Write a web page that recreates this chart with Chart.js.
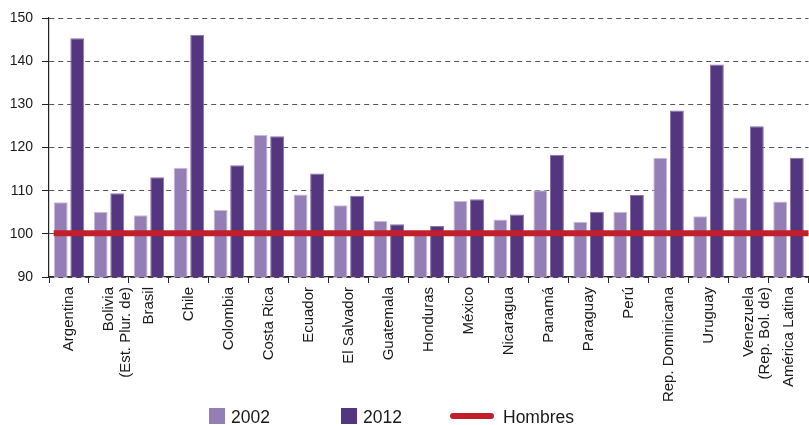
<!DOCTYPE html>
<html>
<head>
<meta charset="utf-8">
<script src="https://cdn.jsdelivr.net/npm/chart.js@4/dist/chart.umd.min.js"></script>
<style>
  html, body { margin: 0; padding: 0; background: #fff; }
  #wrap { position: relative; width: 809px; height: 425px; overflow: hidden; }
  canvas { position: absolute; left: 0; top: 0; }
  .lg { position: absolute; font-family: "Liberation Sans", Arial, sans-serif; font-size: 17.5px; line-height: 17px; color: #1a1a1a; white-space: nowrap; }
  .box { position: absolute; width: 16px; height: 16px; }
  .ln { position: absolute; width: 44px; height: 6px; border-radius: 3px; }
</style>
</head>
<body>
<div id="wrap">
  <canvas id="c" width="809" height="425"></canvas>
  <div class="box" style="left:209px;top:408px;background:#957db6;"></div>
  <div class="lg" style="left:231px;top:409px;">2002</div>
  <div class="box" style="left:341px;top:408px;background:#54357f;"></div>
  <div class="lg" style="left:363px;top:409px;">2012</div>
  <div class="ln" style="left:450px;top:413px;background:#c1202b;"></div>
  <div class="lg" style="left:503px;top:409px;">Hombres</div>
</div>
<script>
const categories = [
  "Argentina", ["Bolivia", "(Est. Plur. de)"], "Brasil", "Chile", "Colombia",
  "Costa Rica", "Ecuador", "El Salvador", "Guatemala", "Honduras", "México",
  "Nicaragua", "Panamá", "Paraguay", "Perú", "Rep. Dominicana", "Uruguay",
  ["Venezuela", "(Rep. Bol. de)"], "América Latina"
];
const values2002 = [107.3, 105.1, 104.3, 115.3, 105.5, 122.9, 109.1, 106.6, 103.0, 100.5, 107.6, 103.3, 110.1, 102.8, 105.1, 117.6, 104.1, 108.4, 107.5];
const values2012 = [145.3, 109.4, 113.1, 146.1, 115.9, 122.6, 114.0, 108.8, 102.2, 101.8, 108.0, 104.5, 118.3, 105.1, 109.0, 128.6, 139.2, 124.9, 117.6];
const hombres = 100;
const yTicks = [90, 100, 110, 120, 130, 140, 150];

const FONT = "'Liberation Sans', Arial, sans-serif";

// Reference line "Hombres" drawn at the y-scale pixel of its value,
// starting at the left edge of the first bar and running to the plot's right edge.
const hombresLine = {
  id: 'hombresLine',
  afterDatasetsDraw(chart) {
    const y = chart.scales.y.getPixelForValue(hombres);
    const first = chart.getDatasetMeta(0).data[0];
    const x0 = first ? first.x - first.width / 2 : chart.chartArea.left;
    const x1 = chart.chartArea.right;
    const ctx = chart.ctx;
    ctx.save();
    ctx.strokeStyle = '#c1202b';
    ctx.lineWidth = 6;
    ctx.lineCap = 'butt';
    ctx.beginPath();
    ctx.moveTo(x0, y - 0.5);
    ctx.lineTo(x1, y - 0.5);
    ctx.stroke();
    ctx.restore();
  }
};

new Chart(document.getElementById('c'), {
  type: 'bar',
  data: {
    labels: categories,
    datasets: [
      {
        label: '2002',
        data: values2002,
        backgroundColor: '#957db6',
        borderColor: '#c9bbdc',
        borderWidth: 1
      },
      {
        label: '2012',
        data: values2012,
        backgroundColor: '#54357f',
        borderColor: '#8a74a8',
        borderWidth: 1
      }
    ]
  },
  plugins: [hombresLine],
  options: {
    responsive: false,
    animation: false,
    categoryPercentage: 0.83,
    barPercentage: 0.84,
    layout: { padding: { top: 18, right: 0, left: 0, bottom: 0 } },
    plugins: { legend: { display: false }, tooltip: { enabled: false } },
    scales: {
      x: {
        type: 'category',
        offset: true,
        grid: { display: true, drawOnChartArea: false, offset: true, tickLength: 6, tickColor: '#222', lineWidth: 1 },
        border: { display: true, color: '#222', width: 1.2 },
        ticks: {
          autoSkip: false, minRotation: 90, maxRotation: 90, padding: 4,
          color: '#1a1a1a', font: { family: FONT, size: 15, lineHeight: 1.1 }
        },
        afterFit: (s) => { s.height = 148; }
      },
      y: {
        min: yTicks[0],
        max: yTicks[yTicks.length - 1],
        afterBuildTicks: (s) => { s.ticks = yTicks.map(v => ({ value: v })); },
        grid: { color: '#555', lineWidth: 1, tickLength: 7, tickColor: '#222' },
        border: { display: true, color: '#222', width: 1.2, dash: [5, 4] },
        ticks: { padding: 9, color: '#1a1a1a', font: { family: FONT, size: 14 } },
        afterFit: (s) => { s.width = 49; }
      }
    }
  }
});
</script>
</body>
</html>
